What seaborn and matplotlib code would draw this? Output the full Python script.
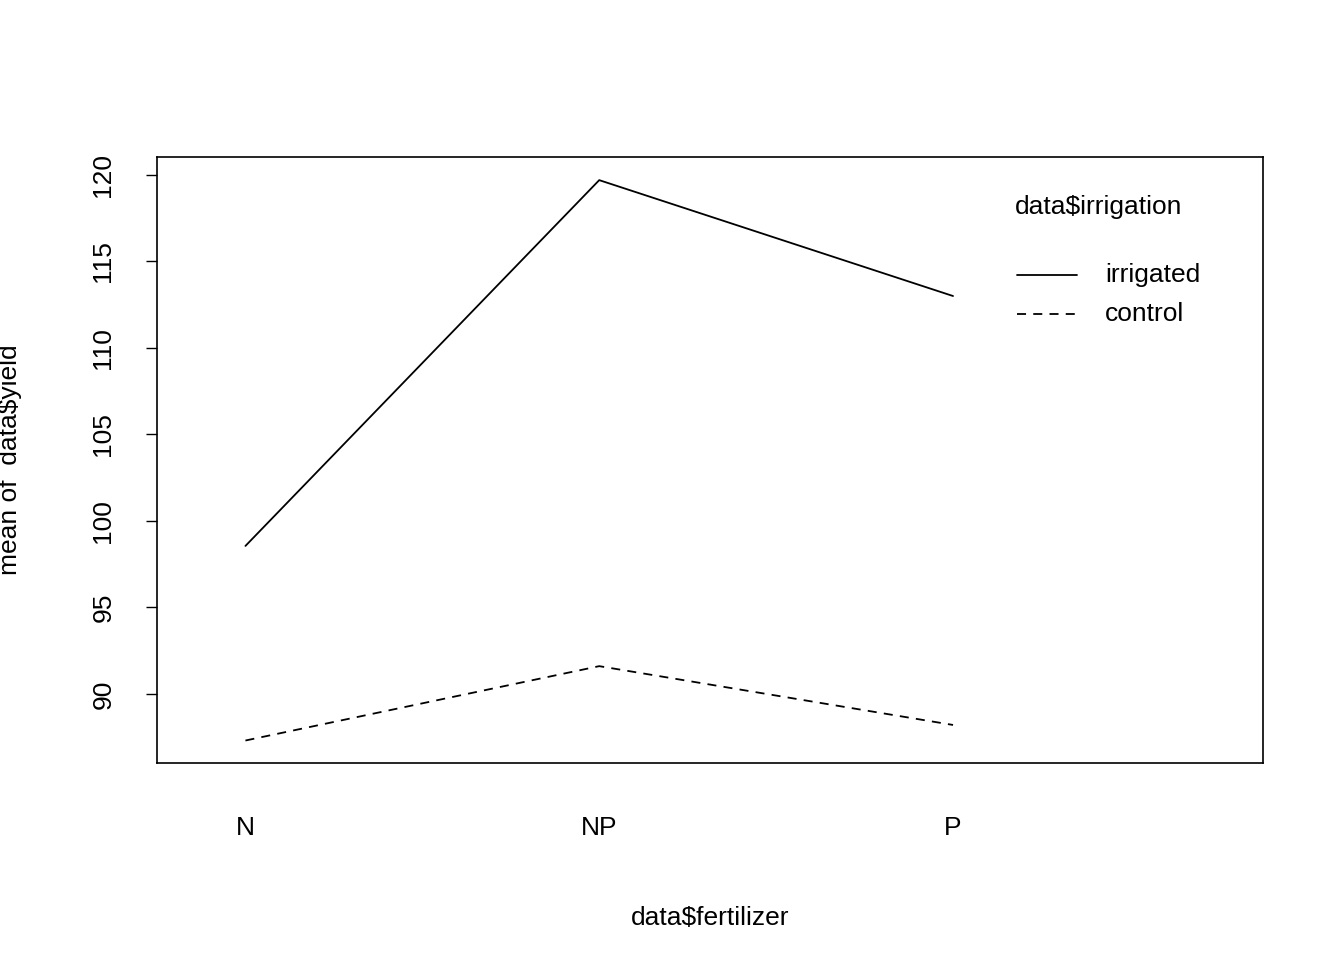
import matplotlib
matplotlib.use("Agg")
import matplotlib.pyplot as plt
import seaborn as sns
import pandas as pd

fertilizer = ["N", "NP", "P"]
irrigated = [98.55, 119.7, 113.0]
control = [87.3, 91.6, 88.2]

sns.set_style("white")
plt.rcParams["font.family"] = ["Liberation Sans", "DejaVu Sans"]
plt.rcParams["font.size"] = 19
plt.rcParams["text.color"] = "black"
plt.rcParams["axes.labelcolor"] = "black"
plt.rcParams["xtick.color"] = "black"
plt.rcParams["ytick.color"] = "black"

df = pd.DataFrame({
    "x": [1, 2, 3] * 2,
    "yield": irrigated + control,
    "irrigation": ["irrigated"] * 3 + ["control"] * 3,
})

fig = plt.figure(figsize=(13.44, 9.6), dpi=100)
ax = fig.add_axes([0.1168, 0.2052, 0.8229, 0.6313])
sns.lineplot(data=df, x="x", y="yield", style="irrigation",
             style_order=["irrigated", "control"],
             dashes={"irrigated": "", "control": (5, 4)},
             color="black", linewidth=1.3, ax=ax, legend=False)

ax.set_xlim(0.75, 3.876)
ax.set_ylim(86.0, 121.04)
ax.set_xticks([1, 2, 3])
ax.set_xticklabels(fertilizer)
ax.tick_params(axis="x", length=0, pad=38)
ax.set_yticks([90, 95, 100, 105, 110, 115, 120])
ax.tick_params(axis="y", length=8, width=1, direction="out", pad=22, left=True)
for lab in ax.get_yticklabels():
    lab.set_rotation(90)
    lab.set_va("center")
for s in ax.spines.values():
    s.set_color("black")
    s.set_linewidth(1.2)
ax.set_xlabel("data$fertilizer", labelpad=48)
ax.set_ylabel("mean of  data$yield", labelpad=50)

# legend drawn like R's interaction.plot legend
fig.text(1015 / 1344, 1 - 207 / 960, "data$irrigation", va="center", ha="left")
for i, (lab, ls) in enumerate([("irrigated", "-"), ("control", (0, (5, 4)))]):
    yy = 1 - (275 + 39 * i) / 960
    fig.add_artist(plt.Line2D([1017 / 1344, 1077 / 1344], [yy, yy],
                              color="black", linewidth=1.3, linestyle=ls))
    fig.text(1105 / 1344, yy, lab, va="center", ha="left")

fig.savefig("out.png", dpi=100)
